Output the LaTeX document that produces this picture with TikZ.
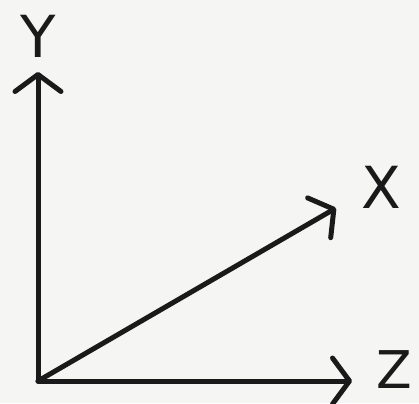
\documentclass[tikz,border=0pt]{standalone}
\usepackage{fontspec}
\setmainfont{DejaVu Sans}
\usetikzlibrary{arrows.meta}
\definecolor{paper}{HTML}{F5F5F3}
\definecolor{ink}{HTML}{1A1A1A}
\begin{document}
\begin{tikzpicture}[x=1pt,y=-1pt,
  axis/.style={draw=ink,line width=5pt,line cap=round,line join=round,
    -{Straight Barb[length=17pt,width=46pt,line width=5pt,round]}},
  lbl/.style={text=ink,font=\fontsize{58}{58}\selectfont,inner sep=0pt}]
\fill[paper] (0,0) rectangle (419,403);
\useasboundingbox (0,0) rectangle (419,403);
\coordinate (O) at (38,381);
\coordinate (Ytip) at (38,72);
\coordinate (Xtip) at (336,208);
\coordinate (Ztip) at (352,381);
\draw[axis] (O) -- (Ytip);
\draw[axis] (O) -- (Xtip);
\draw[axis] (O) -- (Ztip);
\node[lbl] (Y) at (38,36) {Y};
\node[lbl] (X) at (381,187) {X};
\node[lbl,font=\fontsize{52}{52}\selectfont,anchor=base] (Z) at (394,388) {Z};
\end{tikzpicture}
\end{document}
